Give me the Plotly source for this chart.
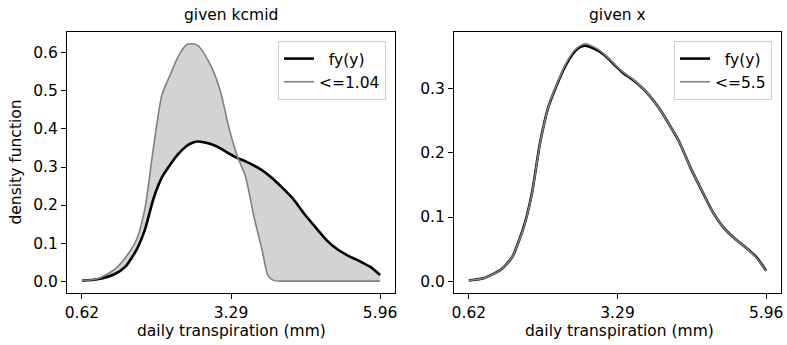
import plotly.graph_objects as go

# ---- data ----
x_grid = [0.62, 0.9, 1.2, 1.4, 1.6, 1.75, 1.9, 2.05, 2.2, 2.35, 2.5, 2.6, 2.7, 2.8,
          2.95, 3.1, 3.25, 3.4, 3.55, 3.7, 3.85, 3.95, 4.05, 4.2, 4.4, 4.6, 4.8,
          5.0, 5.2, 5.4, 5.6, 5.8, 5.96]

fy = [0.001, 0.005, 0.018, 0.038, 0.083, 0.136, 0.216, 0.272, 0.306, 0.335, 0.356,
      0.364, 0.367, 0.365, 0.359, 0.349, 0.336, 0.324, 0.315, 0.304, 0.291, 0.280,
      0.268, 0.247, 0.217, 0.177, 0.142, 0.108, 0.083, 0.066, 0.052, 0.036, 0.016]

given_kcmid = [0.001, 0.006, 0.030, 0.062, 0.110, 0.192, 0.350, 0.488, 0.542, 0.592,
               0.622, 0.624, 0.619, 0.600, 0.560, 0.500, 0.405, 0.330, 0.275, 0.170,
               0.080, 0.015, 0.002, 0.0, 0.0, 0.0, 0.0, 0.0, 0.0, 0.0, 0.0, 0.0, 0.0]

given_x = [0.001, 0.005, 0.018, 0.038, 0.082, 0.135, 0.215, 0.272, 0.307, 0.337, 0.358,
           0.366, 0.370, 0.368, 0.361, 0.350, 0.337, 0.325, 0.316, 0.304, 0.291, 0.280,
           0.268, 0.247, 0.217, 0.177, 0.142, 0.108, 0.083, 0.066, 0.052, 0.035, 0.016]

label_fy = "\u00a0\u00a0fy(y)"
label_kcmid = "<=1.04"
label_x = "<=5.5"

x_ticks = [0.62, 3.29, 5.96]
x_tick_text = ["0.62", "3.29", "5.96"]

FONT = "DejaVu Sans"
FS = 15.5
W, H = 787, 345
SPL = dict(shape="spline", smoothing=0.6)

fig = go.Figure()

# left: fill between fy and conditional
fig.add_trace(go.Scatter(x=x_grid, y=fy, mode="lines", line=dict(width=0, **SPL),
                         showlegend=False, hoverinfo="skip", xaxis="x", yaxis="y"))
fig.add_trace(go.Scatter(x=x_grid, y=given_kcmid, mode="lines", fill="tonexty", fillcolor="#d3d3d3",
                         line=dict(width=0, **SPL),
                         showlegend=False, hoverinfo="skip", xaxis="x", yaxis="y"))
fig.add_trace(go.Scatter(x=x_grid, y=fy, mode="lines", name=label_fy,
                         line=dict(color="black", width=2.6, **SPL),
                         xaxis="x", yaxis="y", legend="legend"))
fig.add_trace(go.Scatter(x=x_grid, y=given_kcmid, mode="lines", name=label_kcmid,
                         line=dict(color="#808080", width=1.6, **SPL),
                         xaxis="x", yaxis="y", legend="legend"))

# right
fig.add_trace(go.Scatter(x=x_grid, y=fy, mode="lines", name=label_fy,
                         line=dict(color="black", width=2.6, **SPL),
                         xaxis="x2", yaxis="y2", legend="legend2"))
fig.add_trace(go.Scatter(x=x_grid, y=given_x, mode="lines", name=label_x,
                         line=dict(color="#808080", width=1.6, **SPL),
                         xaxis="x2", yaxis="y2", legend="legend2"))

def px_x(p):
    return p / W

def px_y(p):
    return 1 - p / H

axis_common = dict(showline=True, mirror=True, linecolor="black", linewidth=1.2,
                   ticks="outside", ticklen=5, tickwidth=1.2, tickcolor="black",
                   showgrid=False, zeroline=False, automargin=False,
                   tickfont=dict(family=FONT, size=FS, color="black"))

y_dom = [px_y(293), px_y(32)]

legend_common = dict(xanchor="right", yanchor="top", traceorder="normal",
                     bgcolor="rgba(255,255,255,0.8)", bordercolor="#cccccc", borderwidth=1,
                     font=dict(family=FONT, size=FS, color="black"))

fig.update_layout(
    width=W, height=H,
    margin=dict(l=0, r=0, t=0, b=0),
    paper_bgcolor="white", plot_bgcolor="white",
    font=dict(family=FONT, size=FS, color="black"),
    xaxis=dict(domain=[px_x(67), px_x(395)], range=[0.353, 6.227], anchor="y",
               tickvals=x_ticks, ticktext=x_tick_text, **axis_common),
    yaxis=dict(domain=y_dom, range=[-0.0312, 0.655], anchor="x",
               tickvals=[0, 0.1, 0.2, 0.3, 0.4, 0.5, 0.6], tickformat=".1f", **axis_common),
    xaxis2=dict(domain=[px_x(454), px_x(781)], range=[0.353, 6.227], anchor="y2",
                tickvals=x_ticks, ticktext=x_tick_text, **axis_common),
    yaxis2=dict(domain=y_dom, range=[-0.0185, 0.3885], anchor="x2",
                tickvals=[0, 0.1, 0.2, 0.3], tickformat=".1f", **axis_common),
    legend=dict(x=px_x(386), y=px_y(41), **legend_common),
    legend2=dict(x=px_x(772), y=px_y(41), **legend_common),
    annotations=[
        dict(text="given kcmid", x=px_x(231), y=px_y(15), xref="paper", yref="paper",
             showarrow=False, xanchor="center", yanchor="middle", font=dict(size=FS)),
        dict(text="given x", x=px_x(617.5), y=px_y(15), xref="paper", yref="paper",
             showarrow=False, xanchor="center", yanchor="middle", font=dict(size=FS)),
        dict(text="daily transpiration (mm)", x=px_x(231), y=px_y(331), xref="paper", yref="paper",
             showarrow=False, xanchor="center", yanchor="middle", font=dict(size=FS)),
        dict(text="daily transpiration (mm)", x=px_x(619), y=px_y(331), xref="paper", yref="paper",
             showarrow=False, xanchor="center", yanchor="middle", font=dict(size=FS)),
        dict(text="density function", x=px_x(15), y=px_y(162.5), xref="paper", yref="paper",
             showarrow=False, xanchor="center", yanchor="middle", textangle=-90, font=dict(size=FS)),
    ],
)

fig.write_html("out.html")
